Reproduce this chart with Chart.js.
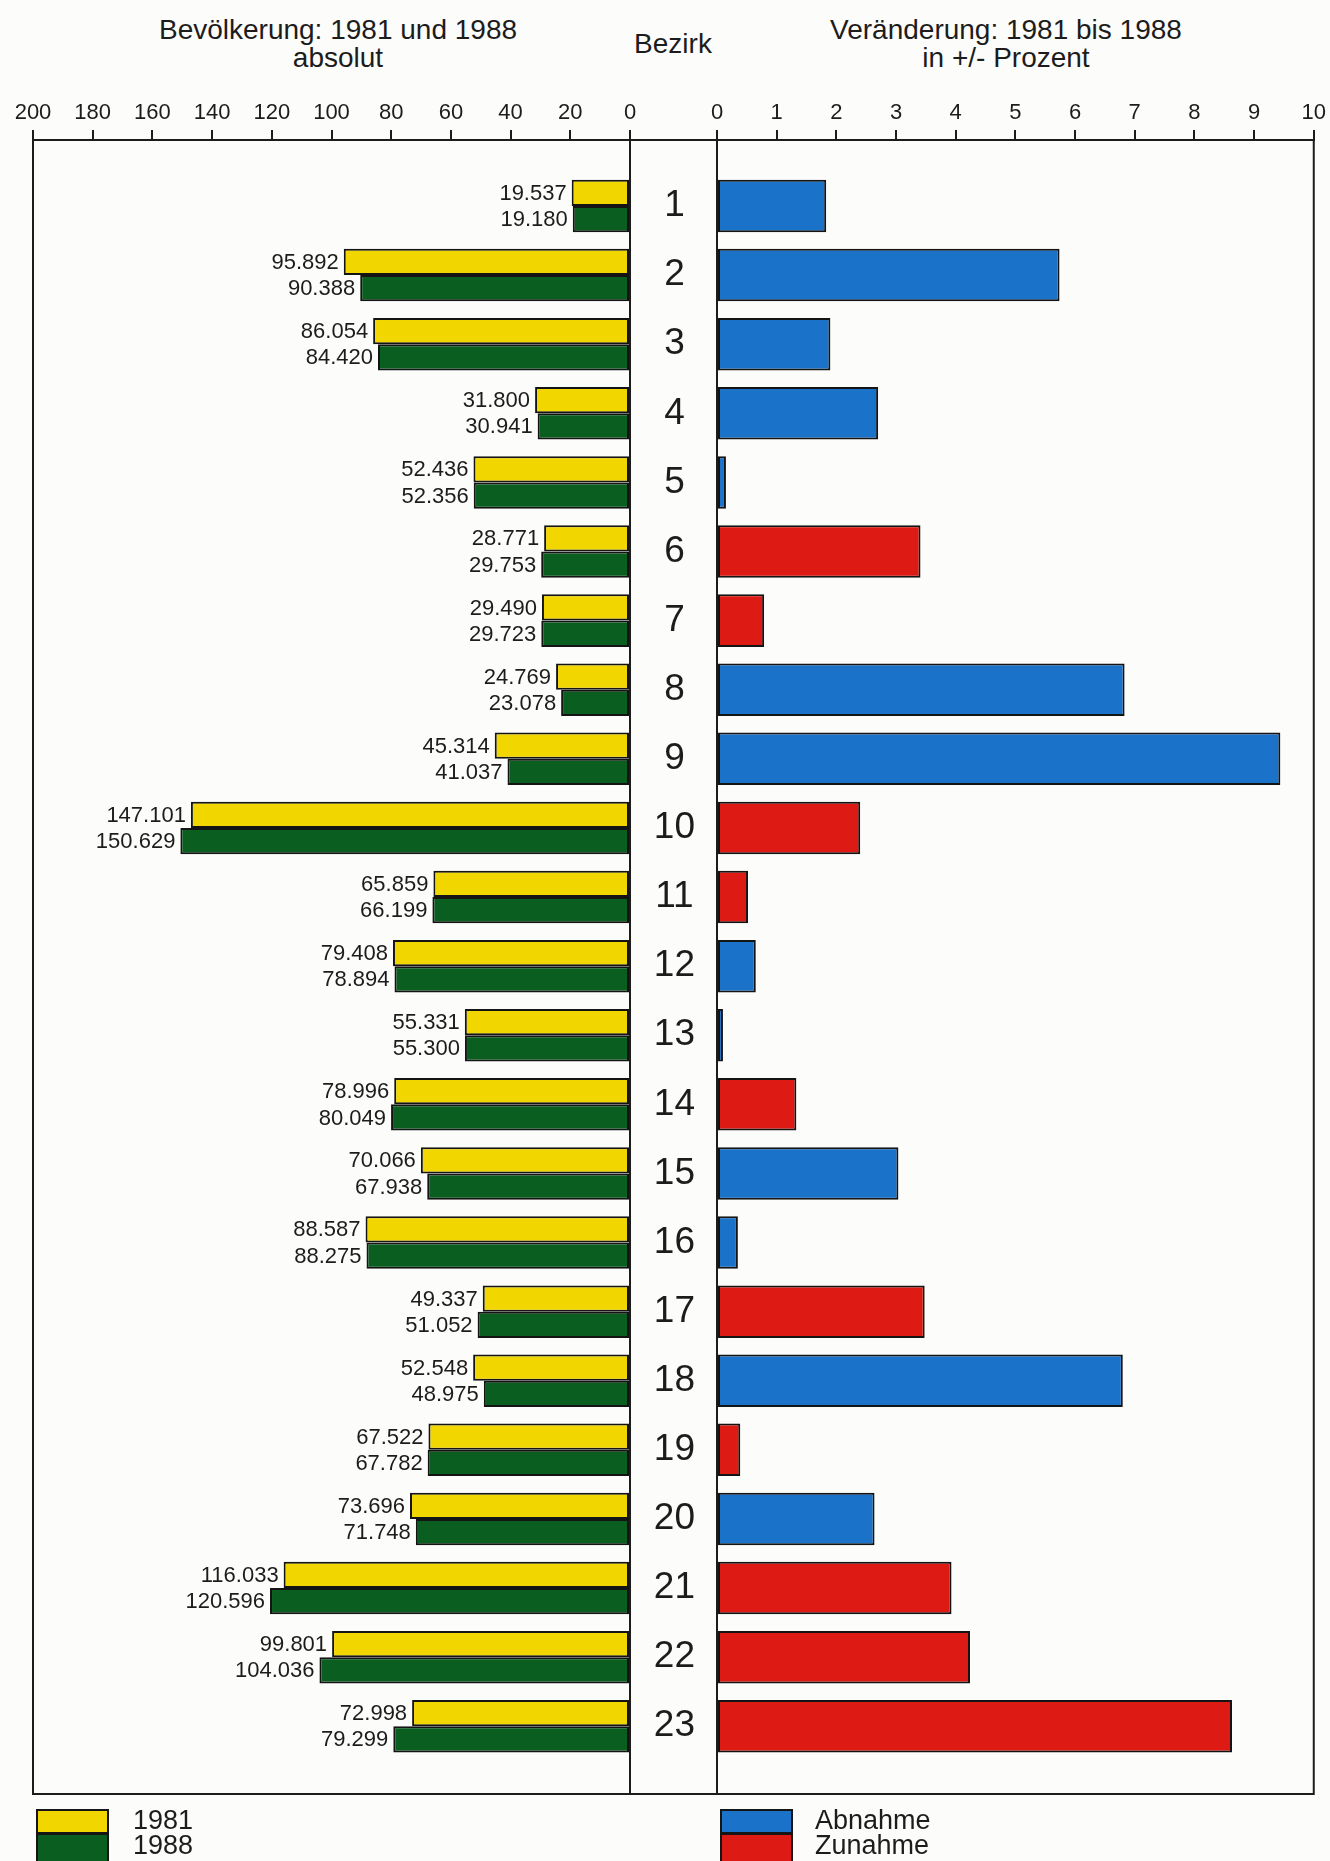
<!DOCTYPE html>
<html lang="de">
<head>
<meta charset="utf-8">
<title>Bevölkerung nach Bezirken 1981 und 1988</title>
<script src="https://cdn.jsdelivr.net/npm/chart.js@4.4.1/dist/chart.umd.min.js"></script>
<style>
  html, body { margin: 0; padding: 0; background: #fcfcfa; }
  body { width: 1330px; height: 1861px; position: relative; overflow: hidden;
         font-family: "Liberation Sans", Arial, sans-serif; color: #1c1c1c; }
  .titel { position: absolute; font-size: 28px; line-height: 28px; text-align: center; white-space: nowrap; }
  canvas { position: absolute; top: 0; }
  .kasten { position: absolute; width: 73px; border: 2px solid #151515; box-sizing: border-box; }
  .legtext { position: absolute; font-size: 27px; line-height: 25px; white-space: nowrap; }
</style>
</head>
<body>
  <div class="titel" style="left:138px; top:16px; width:400px;">Bevölkerung: 1981 und 1988<br>absolut</div>
  <div class="titel" style="left:573px; top:30px; width:200px;">Bezirk</div>
  <div class="titel" style="left:806px; top:16px; width:400px;">Veränderung: 1981 bis 1988<br>in +/- Prozent</div>

  <canvas id="graficaEinwohner" width="645" height="1861" style="left:0"></canvas>
  <canvas id="graficaVeraenderung" width="700" height="1861" style="left:630px"></canvas>

  <!-- Legende -->
  <div class="kasten" style="left:36px; top:1809px; height:25px; background:#f2d600;"></div>
  <div class="kasten" style="left:36px; top:1833px; height:30px; background:#0a5e1f;"></div>
  <div class="legtext" style="left:133px; top:1808px;">1981<br>1988</div>
  <div class="kasten" style="left:720px; top:1809px; height:25px; background:#1a72c9;"></div>
  <div class="kasten" style="left:720px; top:1833px; height:30px; background:#dd1b14;"></div>
  <div class="legtext" style="left:815px; top:1808px;">Abnahme<br>Zunahme</div>

<script>
// Datos
const bezirke = ['1', '2', '3', '4', '5', '6', '7', '8', '9', '10', '11', '12',
                 '13', '14', '15', '16', '17', '18', '19', '20', '21', '22', '23'];
const einwohner1981 = [19537, 95892, 86054, 31800, 52436, 28771, 29490, 24769, 45314, 147101, 65859, 79408,
                       55331, 78996, 70066, 88587, 49337, 52548, 67522, 73696, 116033, 99801, 72998];
const einwohner1988 = [19180, 90388, 84420, 30941, 52356, 29753, 29723, 23078, 41037, 150629, 66199, 78894,
                       55300, 80049, 67938, 88275, 51052, 48975, 67782, 71748, 120596, 104036, 79299];
// Veränderung in Prozent (Betrag), getrennt nach Abnahme / Zunahme
const abnahmeProzent = [1.83, 5.74, 1.90, 2.70, 0.15, null, null, 6.83, 9.44, null, null, 0.65,
                        0.1, null, 3.04, 0.35, null, 6.80, null, 2.64, null, null, null];
const zunahmeProzent = [null, null, null, null, null, 3.41, 0.79, null, null, 2.40, 0.52, null,
                        null, 1.33, null, null, 3.48, null, 0.39, null, 3.93, 4.24, 8.63];
// Achsenbeschriftungen
const ticksTausend = [0, 20, 40, 60, 80, 100, 120, 140, 160, 180, 200];
const ticksProzent = [0, 1, 2, 3, 4, 5, 6, 7, 8, 9, 10];

const TINTE = '#1c1c1c';
Chart.defaults.font.family = '"Liberation Sans", Arial, sans-serif';
Chart.defaults.color = TINTE;
Chart.defaults.animation = false;

// 1.234 -> "1.234"
function tausender(n) {
  return String(n).replace(/\B(?=(\d{3})+(?!\d))/g, '.');
}

// Rahmen um den Plotbereich (optional mit Bezirk-Spalte links)
const rahmen = {
  id: 'rahmen',
  afterDraw(chart, args, opts) {
    const { ctx, chartArea: a } = chart;
    const extra = opts.links || 0;
    ctx.save();
    ctx.strokeStyle = TINTE;
    ctx.lineWidth = 2;
    ctx.strokeRect(a.left - extra, a.top, a.right - a.left + extra, a.bottom - a.top);
    if (extra) {
      ctx.beginPath();
      ctx.moveTo(a.left, a.top);
      ctx.lineTo(a.left, a.bottom);
      ctx.stroke();
    }
    ctx.restore();
  }
};

// Zahlen links neben den Balken
const wertBeschriftung = {
  id: 'wertBeschriftung',
  afterDatasetsDraw(chart) {
    const ctx = chart.ctx;
    ctx.save();
    ctx.font = '22px "Liberation Sans", Arial, sans-serif';
    ctx.fillStyle = TINTE;
    ctx.textAlign = 'right';
    ctx.textBaseline = 'middle';
    chart.data.datasets.forEach((ds, i) => {
      chart.getDatasetMeta(i).data.forEach((bar, j) => {
        ctx.fillText(tausender(ds.data[j]), bar.x - 5, bar.y + 1);
      });
    });
    ctx.restore();
  }
};

// gemeinsame y-Achse: Bezirke 1..23 von oben nach unten
function bezirkAchse(sichtbar) {
  const achse = {
    type: 'linear',
    reverse: true,
    offset: false,
    bounds: 'data',
    min: 0.045,
    max: 23.98,
    display: sichtbar,
    position: 'left',
    grid: { display: false, drawTicks: false },
    border: { display: false },
    ticks: {
      font: { size: 37 },
      crossAlign: 'center',
      padding: 22,
      callback: v => String(v)
    },
    afterBuildTicks: scale => { scale.ticks = bezirke.map(b => ({ value: +b })); }
  };
  if (sichtbar) achse.afterFit = scale => { scale.width = 87; };
  return achse;
}

function obereAchse(max, werte, faktor) {
  return {
    type: 'linear',
    position: 'top',
    min: 0,
    max: max,
    grid: { display: true, drawOnChartArea: false, drawTicks: true, tickLength: 10, color: TINTE, lineWidth: 2 },
    border: { display: true, color: TINTE, width: 2 },
    ticks: {
      font: { size: 22 },
      padding: 4,
      autoSkip: false,
      maxRotation: 0,
      callback: v => String(v / faktor)
    },
    afterBuildTicks: scale => { scale.ticks = werte.map(w => ({ value: w * faktor })); },
    afterFit: scale => { scale.height = 50; }
  };
}

const balkenStil = { borderColor: '#141414', borderWidth: 2, borderSkipped: false };

// 📊 Bevölkerung absolut
const achseEinwohner = obereAchse(200000, ticksTausend, 1000);
achseEinwohner.reverse = true;
new Chart(document.getElementById('graficaEinwohner'), {
  type: 'bar',
  data: {
    labels: bezirke,
    datasets: [
      { label: '1981', data: einwohner1981, backgroundColor: '#f2d600', ...balkenStil },
      { label: '1988', data: einwohner1988, backgroundColor: '#0a5e1f', ...balkenStil }
    ]
  },
  options: {
    indexAxis: 'y',
    responsive: false,
    categoryPercentage: 0.76,
    barPercentage: 1,
    layout: { padding: { left: 33, right: 15, top: 90, bottom: 67 } },
    plugins: { legend: { display: false }, tooltip: { enabled: false }, rahmen: {} },
    scales: { x: achseEinwohner, y: bezirkAchse(false) }
  },
  plugins: [rahmen, wertBeschriftung]
});

// 📈 Veränderung in Prozent
new Chart(document.getElementById('graficaVeraenderung'), {
  type: 'bar',
  data: {
    labels: bezirke,
    datasets: [
      { label: 'Abnahme', data: abnahmeProzent, backgroundColor: '#1a72c9', ...balkenStil },
      { label: 'Zunahme', data: zunahmeProzent, backgroundColor: '#dd1b14', ...balkenStil }
    ]
  },
  options: {
    indexAxis: 'y',
    responsive: false,
    grouped: false,
    categoryPercentage: 0.76,
    barPercentage: 1,
    layout: { padding: { left: 0, right: 16, top: 90, bottom: 67 } },
    plugins: { legend: { display: false }, tooltip: { enabled: false }, rahmen: { links: 87 } },
    scales: { x: obereAchse(10, ticksProzent, 1), y: bezirkAchse(true) }
  },
  plugins: [rahmen]
});
</script>
</body>
</html>
